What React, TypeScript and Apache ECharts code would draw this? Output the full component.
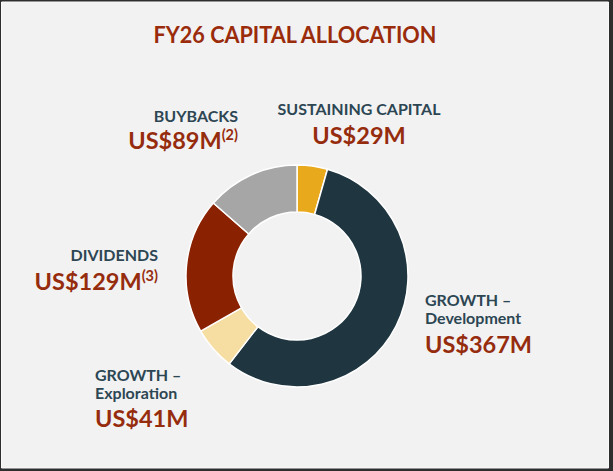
import React, { useEffect, useRef } from 'react';
import * as echarts from 'echarts';

const chartTitle = 'FY26 CAPITAL ALLOCATION';
const categories = ['SUSTAINING CAPITAL', 'GROWTH –\nDevelopment', 'GROWTH –\nExploration', 'DIVIDENDS', 'BUYBACKS'];
const values = [29, 367, 41, 129, 89];
const footnotes = ['', '', '', '(3)', '(2)'];
const sliceColors = ['#E8A91C', '#1F3641', '#F6DDA2', '#8A2100', '#A6A6A6'];

// label placement (layout only)
const labelPlaces = [
  { x: 359, align: 'center', nameY: 108.8, valueY: 135.3 },
  { x: 425, align: 'left', nameY: 308.3, valueY: 343.5 },
  { x: 95, align: 'left', nameY: 383.3, valueY: 418.3 },
  { x: 158, align: 'right', nameY: 254, valueY: 280.5 },
  { x: 238, align: 'right', nameY: 115.8, valueY: 140 },
];

const FONT = 'Lato, "Open Sans", "DejaVu Sans", sans-serif';
const NAME_COLOR = '#2D4653';
const VALUE_COLOR = '#962C0E';

export default function App() {
  const ref = useRef<HTMLDivElement>(null);
  useEffect(() => {
    if (!ref.current) return;
    const chart = echarts.init(ref.current, null, { renderer: 'svg' });
    const labelEls: any[] = [];
    categories.forEach((name, i) => {
      const p = labelPlaces[i];
      labelEls.push({
        type: 'text',
        x: p.x,
        y: p.nameY,
        silent: true,
        style: {
          text: name,
          fill: NAME_COLOR,
          fontFamily: FONT,
          fontWeight: 'bold',
          fontSize: 16,
          lineHeight: 18,
          align: p.align,
          verticalAlign: 'middle',
        },
      });
      const note = footnotes[i];
      labelEls.push({
        type: 'text',
        x: p.x,
        y: p.valueY,
        silent: true,
        style: {
          text: `{v|US$${values[i]}M}` + (note ? `{s|${note}}` : ''),
          align: p.align,
          verticalAlign: 'middle',
          rich: {
            v: { fontFamily: FONT, fontWeight: 'bold', fontSize: 23.5, fill: VALUE_COLOR, color: VALUE_COLOR, lineHeight: 26 },
            s: { fontFamily: FONT, fontWeight: 'bold', fontSize: 14.5, fill: VALUE_COLOR, color: VALUE_COLOR, verticalAlign: 'top', lineHeight: 26 },
          },
        },
      });
    });

    chart.setOption({
      animation: false,
      backgroundColor: '#2E2E2E',
      graphic: [
        {
          type: 'rect',
          z: -10,
          silent: true,
          shape: { x: 1.5, y: 2, width: 607, height: 466 },
          style: { fill: '#F2F2F2', stroke: '#FAFAFA', lineWidth: 1 },
        },
        {
          type: 'text',
          x: 295,
          y: 34.5,
          scaleX: 0.94,
          silent: true,
          style: {
            text: chartTitle,
            fill: '#9A2C0C',
            fontFamily: FONT,
            fontWeight: 'bold',
            fontSize: 23,
            align: 'center',
            verticalAlign: 'middle',
          },
        },
        ...labelEls,
      ],
      series: [
        {
          type: 'pie',
          center: [297, 276],
          radius: [64, 111],
          startAngle: 90,
          clockwise: true,
          silent: true,
          label: { show: false },
          labelLine: { show: false },
          emphasis: { disabled: true },
          itemStyle: { borderColor: '#FFFFFF', borderWidth: 1.5 },
          data: categories.map((c, i) => ({
            name: c,
            value: values[i],
            itemStyle: { color: sliceColors[i] },
          })),
        },
      ],
    });
    return () => chart.dispose();
  }, []);
  return (
    <div
      ref={ref}
      style={{ position: 'absolute', left: 0, top: 0, width: 613, height: 471 }}
    />
  );
}
